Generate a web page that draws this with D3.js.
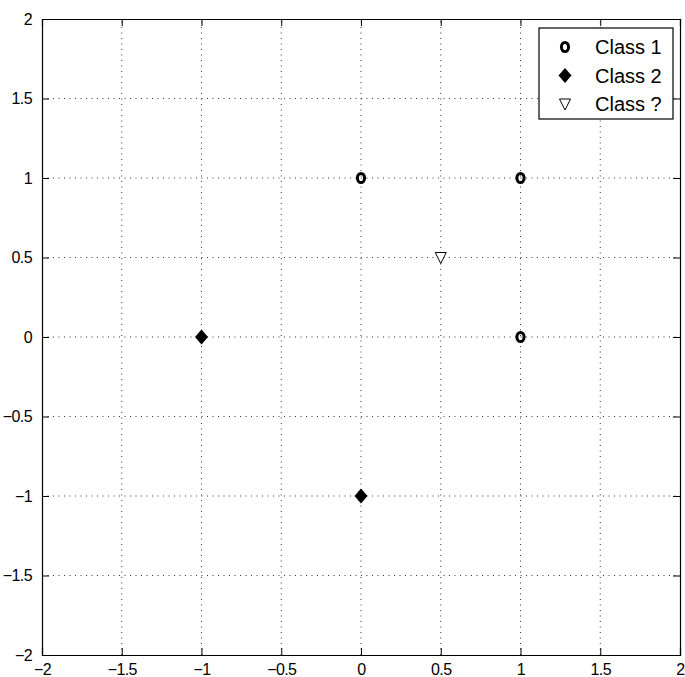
<!DOCTYPE html>
<html lang="en">
  <head>
    <meta charset="utf-8">
    <title>Classes scatter</title>
    <style>
      body { margin: 0; background: #fff; }
      text { font-family: "Liberation Sans", Arial, sans-serif; fill: #000; }
    </style>
  </head>
  <body>
<script src="https://d3js.org/d3.v7.min.js"></script>
<script>
// data
var class1X = [0, 1, 1],
    class1Y = [1, 1, 0];
var class2X = [-1, 0],
    class2Y = [0, -1];
var classQX = [0.5],
    classQY = [0.5];
var ticks = [-2, -1.5, -1, -0.5, 0, 0.5, 1, 1.5, 2];
var legendLabels = ["Class 1", "Class 2", "Class ?"];

var W = 685, H = 677;
var margin = {top: 19, right: 5, bottom: 22, left: 42};

var svg = d3.select("body").append("svg")
  .attr("width", W)
  .attr("height", H);

var x = d3.scaleLinear().domain([-2, 2]).range([margin.left, W - margin.right]);
var y = d3.scaleLinear().domain([-2, 2]).range([H - margin.bottom, margin.top]);

var fmt = function(d) { return String(d).replace("-", "\u2212"); };

// dotted grid
var grid = svg.append("g")
  .attr("stroke", "#000")
  .attr("stroke-width", 0.8)
  .attr("stroke-dasharray", "1,4.5");
grid.selectAll(".gx").data(ticks.slice(1, -1)).enter().append("line")
  .attr("x1", d => x(d)).attr("x2", d => x(d))
  .attr("y1", y(-2)).attr("y2", y(2));
grid.selectAll(".gy").data(ticks.slice(1, -1)).enter().append("line")
  .attr("y1", d => y(d)).attr("y2", d => y(d))
  .attr("x1", x(-2)).attr("x2", x(2));

// axes with inward ticks on all four sides
var tl = 7;
svg.append("g").attr("transform", "translate(0," + y(-2) + ")")
  .call(d3.axisBottom(x).tickValues(ticks).tickSize(-tl).tickPadding(tl + 2).tickFormat(fmt));
svg.append("g").attr("transform", "translate(" + x(-2) + ",0)")
  .call(d3.axisLeft(y).tickValues(ticks).tickSize(-tl).tickPadding(tl + 3).tickFormat(fmt));
svg.append("g").attr("transform", "translate(0," + y(2) + ")")
  .call(d3.axisTop(x).tickValues(ticks).tickSize(-tl).tickFormat(""));
svg.append("g").attr("transform", "translate(" + x(2) + ",0)")
  .call(d3.axisRight(y).tickValues(ticks).tickSize(-tl).tickFormat(""));

svg.selectAll(".domain").attr("stroke", "#000").attr("stroke-width", 1.2);
svg.selectAll(".tick line").attr("stroke", "#000");
svg.selectAll(".tick text")
  .style("font-family", "'Liberation Sans', Arial, sans-serif")
  .style("font-size", "16px")
  .style("letter-spacing", "-0.6px")
  .attr("fill", "#000");

// marker shapes
function circleMark(g) {
  g.append("ellipse").attr("rx", 3.6).attr("ry", 4.6)
    .attr("fill", "none").attr("stroke", "#000").attr("stroke-width", 3);
}
function diamondMark(g) {
  g.append("path").attr("d", "M0,-7.5L6.5,0L0,7.5L-6.5,0Z").attr("fill", "#000");
}
function triMark(g) {
  g.append("path").attr("d", "M-5.5,-5L5.5,-5L0,6Z")
    .attr("fill", "#fff").attr("stroke", "#000").attr("stroke-width", 1);
}

function plot(xs, ys, mark) {
  xs.forEach(function(v, i) {
    var g = svg.append("g").attr("transform", "translate(" + x(v) + "," + y(ys[i]) + ")");
    mark(g);
  });
}
plot(class1X, class1Y, circleMark);
plot(class2X, class2Y, diamondMark);
plot(classQX, classQY, triMark);

// legend
var lg = svg.append("g").attr("transform", "translate(539,28)");
lg.append("rect").attr("width", 134).attr("height", 91)
  .attr("fill", "#fff").attr("stroke", "#000").attr("stroke-width", 1.2);
var marks = [circleMark, diamondMark, triMark];
legendLabels.forEach(function(lab, i) {
  var row = lg.append("g").attr("transform", "translate(26," + (19 + i * 28.5) + ")");
  marks[i](row);
  row.append("text").attr("x", 30).attr("dy", "0.36em")
    .style("font-size", "20px").text(lab);
});
</script>
  </body>
</html>
